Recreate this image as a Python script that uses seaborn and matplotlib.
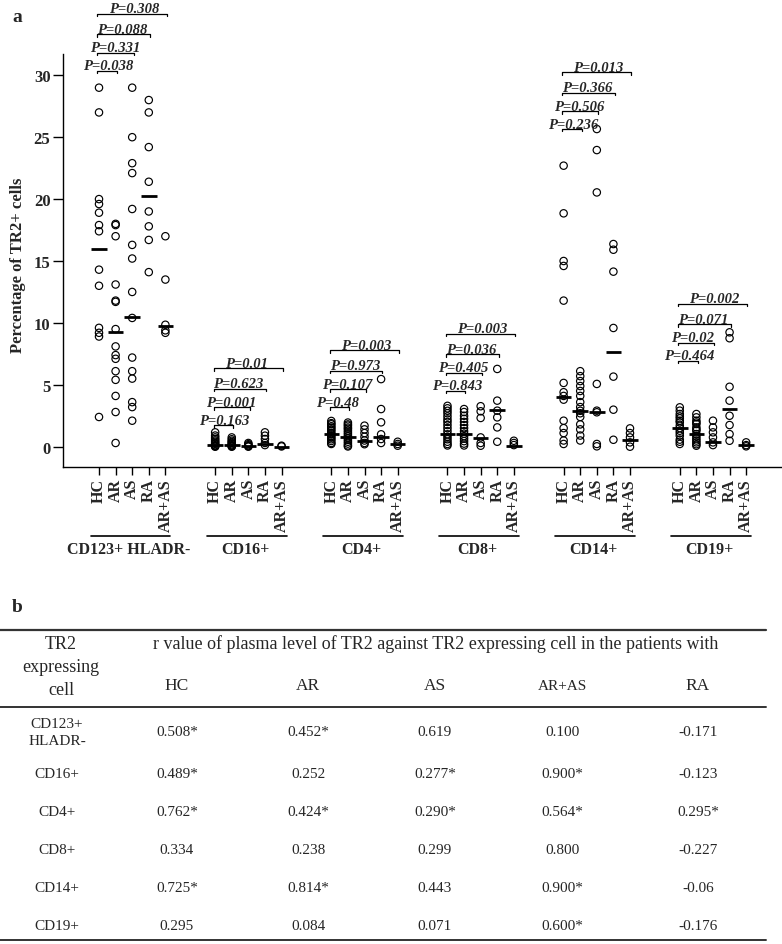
import numpy as np
import pandas as pd
import matplotlib
matplotlib.use("Agg")
import matplotlib.pyplot as plt
import seaborn as sns

# ---------------- data (panel a) ----------------
groups = ["CD123+ HLADR-", "CD16+", "CD4+", "CD8+", "CD14+", "CD19+"]
cats = ["HC", "AR", "AS", "RA", "AR+AS"]

cd123 = {
    "HC": [29.0, 27.0, 20.0, 19.6, 18.9, 17.9, 17.4, 14.3, 13.0, 9.6, 9.2, 8.9, 2.4],
    "AR": [18.0, 17.9, 17.0, 13.1, 11.8, 11.7, 9.5, 8.1, 7.4, 7.1, 6.1, 5.4, 4.1, 2.8, 0.3],
    "AS": [29.0, 25.0, 22.9, 22.1, 19.2, 16.3, 15.2, 12.5, 10.4, 7.2, 6.1, 5.5, 3.6, 3.2, 2.1],
    "RA": [28.0, 27.0, 24.2, 21.4, 19.0, 17.8, 16.7, 14.1],
    "AR+AS": [17.0, 13.5, 9.85, 9.4, 9.2],
}
cd16 = {
    "HC": [1.16, 0.9, 0.75, 0.62, 0.5, 0.4, 0.3, 0.22, 0.12, 0.08, 0.03, 0.0],
    "AR": [0.75, 0.6, 0.48, 0.38, 0.3, 0.2, 0.12, 0.08, 0.03, 0.0],
    "AS": [0.3, 0.2, 0.12, 0.05, 0.0],
    "RA": [1.16, 0.89, 0.62, 0.3, 0.13],
    "AR+AS": [0.08, 0.02],
}
cd4 = {
    "HC": [2.08, 1.9, 1.81, 1.65, 1.54, 1.4, 1.27, 1.1, 0.99, 0.85, 0.73, 0.6, 0.46, 0.3, 0.22],
    "AR": [1.95, 1.8, 1.7, 1.55, 1.45, 1.3, 1.15, 1.0, 0.85, 0.7, 0.55, 0.4, 0.25, 0.1, 0.02],
    "AS": [1.7, 1.4, 1.1, 0.8, 0.5, 0.3, 0.2],
    "RA": [5.46, 3.04, 1.97, 1.0, 0.62, 0.3],
    "AR+AS": [0.4, 0.22, 0.08],
}
cd8 = {
    "HC": [3.3, 3.1, 2.9, 2.7, 2.45, 2.2, 2.0, 1.75, 1.5, 1.25, 1.0, 0.8, 0.6, 0.4, 0.22, 0.1],
    "AR": [3.04, 2.8, 2.5, 2.25, 2.0, 1.75, 1.5, 1.25, 1.05, 0.85, 0.65, 0.45, 0.25, 0.1],
    "AS": [3.27, 2.86, 2.32, 0.75, 0.3, 0.08],
    "RA": [6.28, 3.72, 2.91, 2.37, 1.56, 0.4],
    "AR+AS": [0.48, 0.3, 0.13],
}
cd14 = {
    "HC": [22.7, 18.85, 15.0, 14.6, 11.8, 5.15, 4.4, 4.1, 3.8, 2.1, 1.5, 1.1, 0.5, 0.22],
    "AR": [6.1, 5.7, 5.3, 4.9, 4.5, 4.1, 3.6, 3.2, 2.9, 2.7, 2.4, 1.8, 1.4, 0.9, 0.5],
    "AS": [25.66, 23.96, 20.54, 5.07, 2.91, 2.78, 0.22, 0.03],
    "RA": [16.37, 15.91, 14.14, 9.59, 5.66, 2.99, 0.56],
    "AR+AS": [1.48, 1.1, 0.75, 0.35, 0.0],
}
cd19 = {
    "HC": [3.18, 2.91, 2.64, 2.45, 2.29, 2.1, 1.97, 1.7, 1.5, 1.29, 1.1, 0.89, 0.57, 0.4, 0.22],
    "AR": [2.64, 2.37, 2.1, 1.95, 1.83, 1.56, 1.4, 1.29, 1.02, 0.85, 0.67, 0.5, 0.35, 0.2, 0.08],
    "AS": [2.1, 1.56, 1.16, 0.75, 0.35, 0.13],
    "RA": [9.24, 8.76, 4.84, 3.72, 2.5, 1.75, 1.02, 0.48],
    "AR+AS": [0.35, 0.13, 0.03],
}
group_data = [cd123, cd16, cd4, cd8, cd14, cd19]

# horizontal bars (group summary value per category)
bar_cd123 = [15.97, 9.24, 10.45, 20.27, 9.77]
bar_cd16 = [0.16, 0.16, 0.08, 0.22, 0.0]
bar_cd4 = [0.99, 0.78, 0.46, 0.8, 0.22]
bar_cd8 = [0.99, 0.99, 0.67, 2.99, 0.05]
bar_cd14 = [4.04, 2.91, 2.83, 7.62, 0.54]
bar_cd19 = [1.51, 1.02, 0.35, 3.05, 0.13]
bars = [bar_cd123, bar_cd16, bar_cd4, bar_cd8, bar_cd14, bar_cd19]

# P values (HC vs AR, AS, RA, AR+AS)
p_cd123 = ["P=0.038", "P=0.331", "P=0.088", "P=0.308"]
p_cd16 = ["P=0.163", "P=0.001", "P=0.623", "P=0.01"]
p_cd4 = ["P=0.48", "P=0.107", "P=0.973", "P=0.003"]
p_cd8 = ["P=0.843", "P=0.405", "P=0.036", "P=0.003"]
p_cd14 = ["P=0.236", "P=0.506", "P=0.366", "P=0.013"]
p_cd19 = ["P=0.464", "P=0.02", "P=0.071", "P=0.002"]
pvals = [p_cd123, p_cd16, p_cd4, p_cd8, p_cd14, p_cd19]

# ---------------- data (panel b) ----------------
table_rows = ["CD123+\nHLADR-", "CD16+", "CD4+", "CD8+", "CD14+", "CD19+"]
table_cols = ["HC", "AR", "AS", "AR+AS", "RA"]
r_hc = ["0.508*", "0.489*", "0.762*", "0.334", "0.725*", "0.295"]
r_ar = ["0.452*", "0.252", "0.424*", "0.238", "0.814*", "0.084"]
r_as = ["0.619", "0.277*", "0.290*", "0.299", "0.443", "0.071"]
r_aras = ["0.100", "0.900*", "0.564*", "0.800", "0.900*", "0.600*"]
r_ra = ["-0.171", "-0.123", "0.295*", "-0.227", "-0.06", "-0.176"]
r_cols = [r_hc, r_ar, r_as, r_aras, r_ra]

# ---------------- style ----------------
sns.set_theme(style="ticks")
plt.rcParams["font.family"] = ["Liberation Serif", "DejaVu Serif"]
plt.rcParams["axes.linewidth"] = 1.0

GAP = 7  # slots per group (5 categories + 2 spacer)

rows = []
for gi, (g, d) in enumerate(zip(groups, group_data)):
    for ci, c in enumerate(cats):
        for v in d[c]:
            rows.append({"group": g, "cat": c, "value": v, "pos": gi * GAP + ci})
df = pd.DataFrame(rows)

fig = plt.figure(figsize=(7.82, 9.45), dpi=100)
W, H = 782, 945
ax = fig.add_axes([63 / W, 1 - 468 / H, (781 - 63) / W, (468 - 55) / H])

sns.scatterplot(data=df, x="pos", y="value", ax=ax, marker="o", s=28,
                color="black", facecolors="none", edgecolor="black",
                linewidth=0.85, legend=False, zorder=3)
for coll in ax.collections:
    coll.set_facecolor("none")
    coll.set_edgecolor("black")

# summary bars
for gi, b in enumerate(bars):
    pos = np.arange(len(cats)) + gi * GAP
    ax.hlines(b, pos - 0.47, pos + 0.47, color="black", lw=2.0, zorder=4)

ax.set_xlim(-2.17, 41.1)
ax.set_ylim(-1.64, 31.72)
ax.set_yticks([0, 5, 10, 15, 20, 25, 30])
ax.set_yticklabels(["0", "5", "10", "15", "20", "25", "30"], fontweight="bold", fontsize=12)
xt = [gi * GAP + ci for gi in range(len(groups)) for ci in range(len(cats))]
ax.set_xticks(xt)
ax.set_xticklabels(cats * len(groups), rotation=90, fontweight="bold", fontsize=11.5)
ax.tick_params(axis="x", length=6, width=1, pad=2, color="black")
ax.tick_params(axis="y", length=7, width=1, pad=2, color="black")
ax.set_xlabel("")
ax.set_ylabel("Percentage of TR2+ cells", fontweight="bold", fontsize=12)
ax.yaxis.set_label_coords(-0.052, 0.49)
sns.despine(ax=ax)
for sp in ["left", "bottom"]:
    ax.spines[sp].set_color("black")

# P-value brackets
bracket_base = [30.37, 1.75, 3.18, 4.52, 25.66, 6.95]
bracket_step = [0.0, 1.45, 2.95, 4.6]
text_shift = [-0.95, -0.55, -0.1, 0.58]
for gi, plist in enumerate(pvals):
    x0 = gi * GAP - 0.1
    for k, ptxt in enumerate(plist):
        y = bracket_base[gi] + bracket_step[k]
        x1 = gi * GAP + (k + 1) + 0.08
        ax.plot([x0, x0, x1, x1], [y - 0.2, y, y, y - 0.2], color="black",
                lw=0.9, clip_on=False, zorder=5)
        ax.text(gi * GAP + text_shift[k], y + 0.12, ptxt, ha="left", va="baseline",
                fontsize=10.5, fontweight="bold", fontstyle="italic", clip_on=False)

# group underline + labels
xtr = ax.get_xaxis_transform()
for gi, g in enumerate(groups):
    c0 = gi * GAP
    ax.plot([c0 - 0.5, c0 + 4.3], [-0.167, -0.167], color="black", lw=1.2,
            transform=xtr, clip_on=False)
    ax.text(c0 + 1.8, -0.199, g, transform=xtr, ha="center", va="center",
            fontsize=11.5, fontweight="bold")

# ---------------- overlay for labels + table ----------------
ov = fig.add_axes([0, 0, 1, 1])
ov.set_xlim(0, W)
ov.set_ylim(H, 0)
ov.axis("off")
ov.patch.set_alpha(0)

ov.text(17, 17, "a", fontsize=14, fontweight="bold", ha="center", va="center")
ov.text(17.5, 607, "b", fontsize=14, fontweight="bold", ha="center", va="center")

ov.plot([0, 766], [631, 631], color="#333333", lw=1.6)
ov.plot([0, 766], [707.5, 707.5], color="#333333", lw=1.4)
ov.plot([0, 766], [941, 941], color="#333333", lw=1.4)

ov.text(61, 649, "TR2", ha="center", va="baseline", fontsize=13)
ov.text(61, 672, "expressing", ha="center", va="baseline", fontsize=13)
ov.text(61, 695, "cell", ha="center", va="baseline", fontsize=13)
ov.text(436, 649, "r value of plasma level of TR2 against TR2 expressing cell in the patients with",
        ha="center", va="baseline", fontsize=13)

col_x = [177, 308, 435, 562, 698]
for cx, name in zip(col_x, table_cols):
    ov.text(cx, 690, name, ha="center", va="baseline",
            fontsize=12.5 if name != "AR+AS" else 11)

row_y = [733, 774, 812, 850, 888, 926]
for ri, (ry, rname) in enumerate(zip(row_y, table_rows)):
    ov.text(57, ry, rname, ha="center", va="center", fontsize=11, linespacing=1.45)
    for cx, col in zip(col_x, r_cols):
        ov.text(cx, ry, col[ri], ha="center", va="center", fontsize=11)

fig.savefig("out.png", dpi=100, facecolor="white")
